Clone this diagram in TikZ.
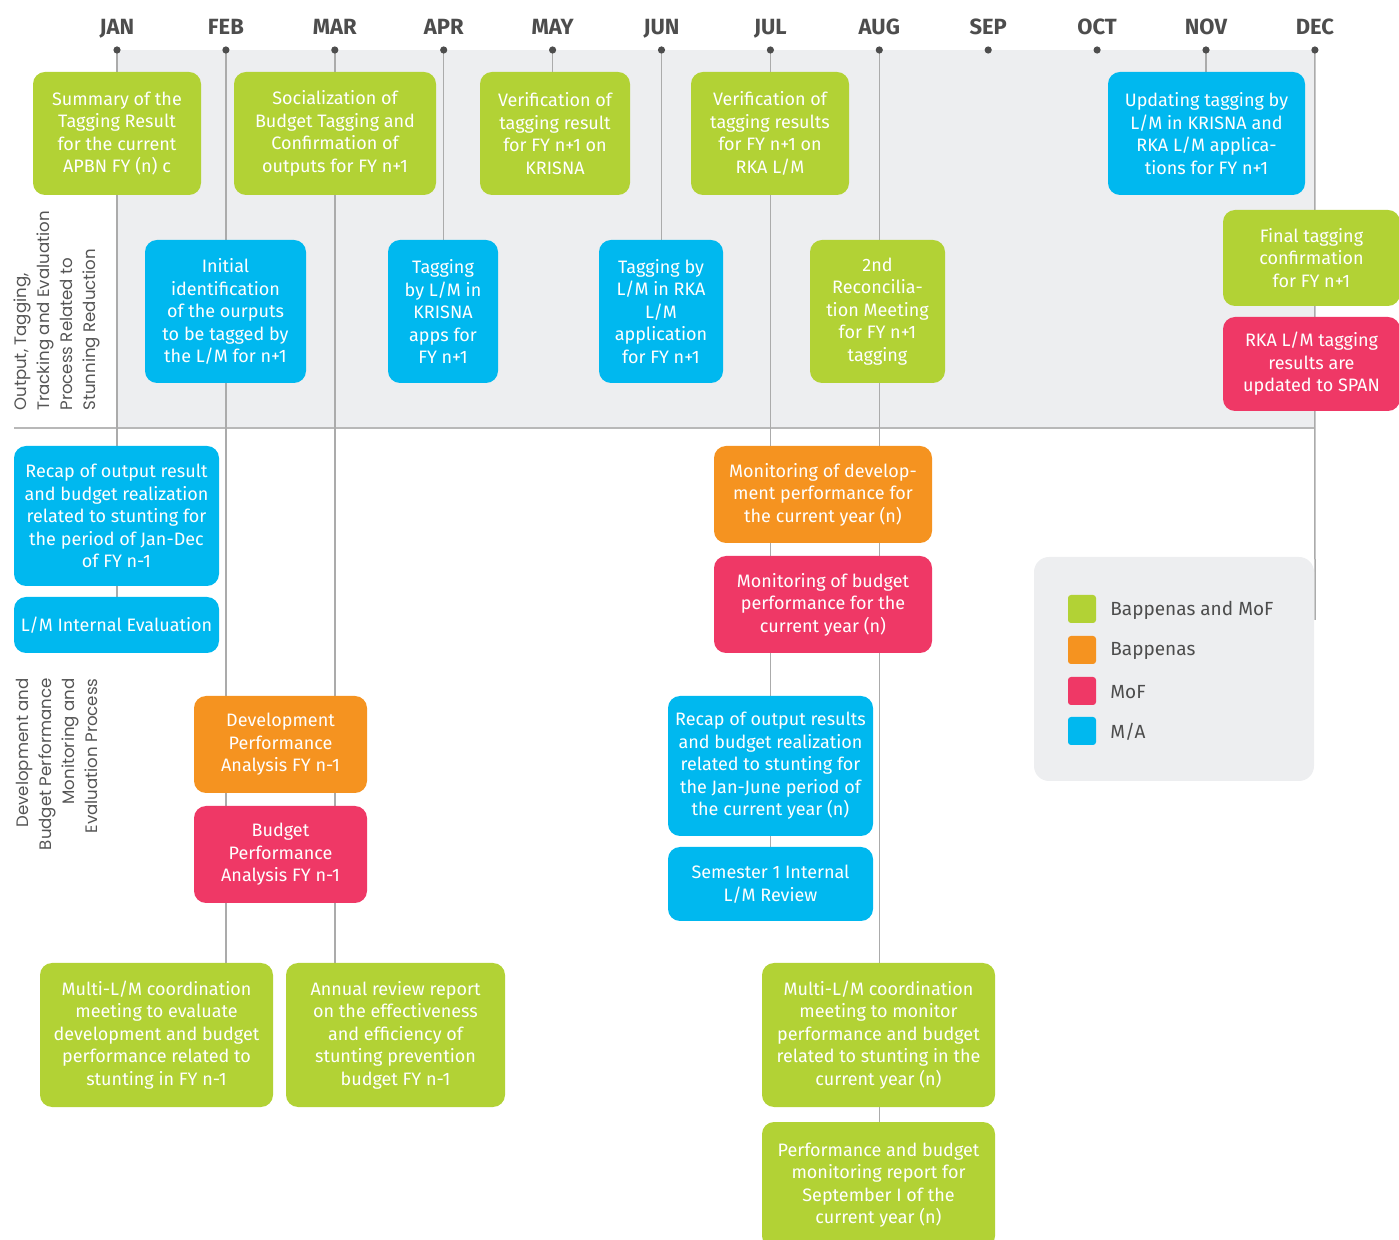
\documentclass[tikz,border=0pt]{standalone}
\usepackage{fontspec}
\setmainfont{Fira Sans}
\newfontfamily\labfont{Poppins}
\definecolor{cgreen}{HTML}{B2D235}
\definecolor{cblue}{HTML}{00B8EF}
\definecolor{corange}{HTML}{F59320}
\definecolor{cred}{HTML}{EF3866}
\definecolor{cpanel}{HTML}{EDEEF0}
\definecolor{cline}{HTML}{ABABAB}
\definecolor{cdark}{HTML}{4D4D4D}
\definecolor{clab}{HTML}{555555}
\pgfdeclarelayer{panel}
\pgfdeclarelayer{lines}
\pgfsetlayers{panel,lines,main}
\tikzset{
  wh/.style 2 args={minimum width=#1*0.5pt, minimum height=#2*0.5pt},
  box/.style={rectangle, rounded corners=6pt, inner sep=0pt, text=white, align=center,
    font=\fontsize{9}{11.25}\selectfont},
  gbox/.style={box, fill=cgreen},
  bbox/.style={box, fill=cblue},
  obox/.style={box, fill=corange},
  rbox/.style={box, fill=cred},
  month/.style={font=\fontsize{11}{12}\selectfont\bfseries, text=cdark, inner sep=0pt, anchor=base},
  mdot/.style={circle, fill=cdark, inner sep=0pt, minimum size=3.6pt},
  conn/.style={draw=cline, line width=0.75pt},
  sepline/.style={draw=cline!85!white, line width=1pt},
  sidelab/.style={font=\labfont\fontsize{8.3}{11.5}\selectfont, text=clab, rotate=90, inner sep=0pt},
  swatch/.style={rectangle, rounded corners=1.5pt, inner sep=0pt, minimum size=14pt},
  legtext/.style={font=\fontsize{9.5}{11}\selectfont, text=cdark, inner sep=0pt, anchor=west},
}
\begin{document}
\begin{tikzpicture}[x=0.5pt,y=-0.5pt]
\useasboundingbox (0,0) rectangle (1399,1240);

% months
\foreach \name/\lab [count=\i from 0] in {jan/JAN,feb/FEB,mar/MAR,apr/APR,may/MAY,jun/JUN,jul/JUL,aug/AUG,sep/SEP,oct/OCT,nov/NOV,dec/DEC}{
  \node[month] (\name t) at ({117+\i*108.9},34.5) {\lab};
  \node[mdot] (\name) at ({117+\i*108.9},50) {};
}
\coordinate (decend) at (1315,620);

% top row
\node[gbox, wh={168}{123}] (sum) at (117,133.5) {Summary of the\\Tagging Result\\for the current\\APBN FY (n) c};
\node[gbox, wh={202}{123}] (soc) at (335,133.5) {Socialization of\\Budget Tagging and\\Confirmation of\\outputs for FY n+1};
\node[gbox, wh={150}{123}] (verk) at (555,133.5) {Verification of\\tagging result\\for FY n+1 on\\KRISNA};
\node[gbox, wh={158}{123}] (verr) at (770,133.5) {Verification of\\tagging results\\for FY n+1 on\\RKA L/M};
\node[bbox, wh={197}{123}] (upd) at (1206.5,133.5) {Updating tagging by\\L/M in KRISNA and\\RKA L/M applica-\\tions for FY n+1};

% second row
\node[bbox, wh={161}{143}] (init) at (225.5,311.5) {Initial\\identification\\of the ourputs\\to be tagged by\\the L/M for n+1};
\node[bbox, wh={110}{143}] (tagk) at (443,311.5) {Tagging\\by L/M in\\KRISNA\\apps for\\FY n+1};
\node[bbox, wh={124}{143}] (tagr) at (661,311.5) {Tagging by\\L/M in RKA\\L/M\\application\\for FY n+1};
\node[gbox, wh={135}{143}] (rec2) at (877.5,311.5) {2nd\\Reconcilia-\\tion Meeting\\for FY n+1\\tagging};
\node[gbox, wh={177}{96}] (fin) at (1311.5,258) {Final tagging\\confirmation\\for FY n+1};
\node[rbox, wh={177}{94}] (span) at (1311.5,364) {RKA L/M tagging\\results are\\updated to SPAN};

% lower section
\node[bbox, wh={205}{140}] (recap1) at (116.5,516) {Recap of output result\\and budget realization\\related to stunting for\\the period of Jan-Dec\\of FY n-1};
\node[bbox, wh={205}{56}] (lmint) at (116.5,625) {L/M Internal Evaluation};
\node[obox, wh={173}{97}] (devp) at (280.5,744.5) {Development\\Performance\\Analysis FY n-1};
\node[rbox, wh={173}{97}] (budp) at (280.5,854.5) {Budget\\Performance\\Analysis FY n-1};
\node[gbox, wh={233}{144}] (multi1) at (156.5,1035) {Multi-L/M coordination\\meeting to evaluate\\development and budget\\performance related to\\stunting in FY n-1};
\node[gbox, wh={219}{144}] (annual) at (395.5,1035) {Annual review report\\on the effectiveness\\and efficiency of\\stunting prevention\\budget FY n-1};
\node[obox, wh={218}{97}] (mondev) at (823,494.5) {Monitoring of develop-\\ment performance for\\the current year (n)};
\node[rbox, wh={218}{97}] (monbud) at (823,604.5) {Monitoring of budget\\performance for the\\current year (n)};
\node[bbox, wh={205}{140}] (recap2) at (770.5,766) {Recap of output results\\and budget realization\\related to stunting for\\the Jan-June period of\\the current year (n)};
\node[bbox, wh={205}{74}] (sem) at (770.5,884) {Semester 1 Internal\\L/M Review};
\node[gbox, wh={233}{144}] (multi2) at (878.5,1035) {Multi-L/M coordination\\meeting to monitor\\performance and budget\\related to stunting in the\\current year (n)};
\node[gbox, wh={233}{126}] (perf) at (878.5,1185) {Performance and budget\\monitoring report for\\September I of the\\current year (n)};

% legend
\node[rectangle, rounded corners=7.5pt, fill=cpanel, wh={280}{224}] (legend) at (1174,669) {};
\node[swatch, fill=cgreen] (sw1) at (1082,609) {};
\node[swatch, fill=corange] (sw2) at (1082,650) {};
\node[swatch, fill=cred] (sw3) at (1082,691) {};
\node[swatch, fill=cblue] (sw4) at (1082,731) {};
\node[legtext] (lt1) at (1110,610) {Bappenas and MoF};
\node[legtext] (lt2) at (1110,651) {Bappenas};
\node[legtext] (lt3) at (1110,692) {MoF};
\node[legtext] (lt4) at (1110,732) {M/A};

% side labels
\node[sidelab, align=left, anchor=west] (lab1) at (57,411) {Output, Tagging,\\Tracking and Evaluation\\Process Related to\\Stunning Reduction};
\node[sidelab, align=right, anchor=east] (lab2) at (57,678) {Development and\\Budget Performance\\Monitoring and\\Evaluation Process};

% background panel
\begin{pgfonlayer}{panel}
  \fill[cpanel] (jan.center) rectangle (1315,428);
\end{pgfonlayer}

% connectors
\begin{pgfonlayer}{lines}
  \draw[sepline] (14,428) -- (1315,428);
  \draw[conn] (jan.center) -- (jan |- lmint.center);
  \draw[conn] (feb.center) -- (feb |- multi1.center);
  \draw[conn] (mar.center) -- (mar |- annual.center);
  \draw[conn] (apr.center) -- (apr |- tagk.center);
  \draw[conn] (may.center) -- (may |- verk.center);
  \draw[conn] (jun.center) -- (jun |- tagr.center);
  \draw[conn] (jul.center) -- (jul |- sem.center);
  \draw[conn] (aug.center) -- (aug |- perf.center);
  \draw[conn] (nov.center) -- (nov |- upd.center);
  \draw[conn] (dec.center) -- (decend);
\end{pgfonlayer}
\end{tikzpicture}
\end{document}
